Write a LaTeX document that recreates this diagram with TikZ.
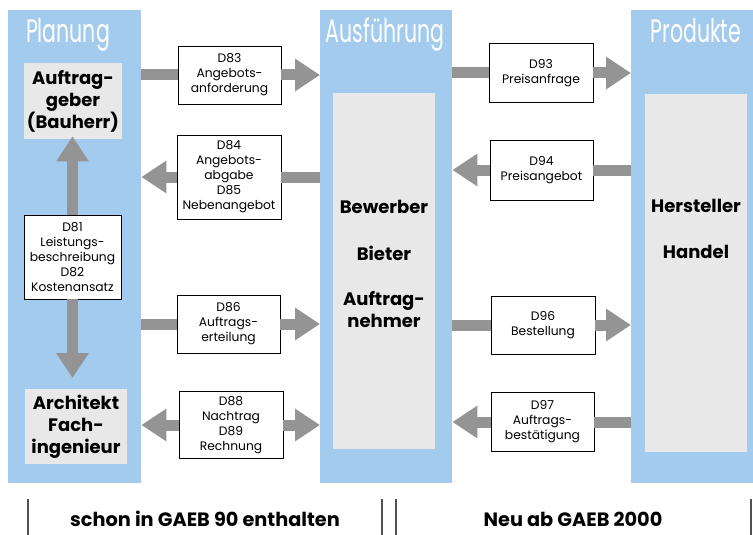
\documentclass[tikz,border=0pt]{standalone}
\usepackage{fontspec}
\setmainfont{Poppins}
\usetikzlibrary{arrows.meta}
\definecolor{colblue}{RGB}{163,203,238}
\definecolor{arrgray}{RGB}{148,148,148}
\definecolor{innergray}{RGB}{232,232,232}
\definecolor{sepgray}{RGB}{80,80,80}
\begin{document}
\begin{tikzpicture}[x=1pt,y=-1pt,
  col/.style={fill=colblue, draw=none, anchor=north west, inner sep=0pt},
  innerbox/.style={fill=innergray, draw=none, anchor=north west, inner sep=0pt},
  docbox/.style={draw=black, line width=0.8pt, fill=white, inner sep=0pt, align=center,
    font=\fontsize{12.3}{15}\selectfont},
  coltitle/.style={text=white, inner sep=0pt, font=\fontsize{32.5}{32}\selectfont},
  role/.style={inner sep=0pt, align=center, font=\bfseries\fontsize{18}{22}\selectfont},
  flow/.style={draw=arrgray, line width=11pt},
  fwd/.style={flow, -{Triangle[width=31pt,length=25pt]}},
  legend/.style={inner sep=0pt, font=\bfseries\fontsize{19.3}{20}\selectfont},
  sep/.style={draw=sepgray, line width=1.5pt},
]
\useasboundingbox (0,0) rectangle (753,535);
\fill[white] (0,0) rectangle (753,535);

% columns
\node[col, minimum width=133pt, minimum height=473pt] (plan) at (8,10) {};
\node[col, minimum width=132pt, minimum height=473pt] (ausf) at (320,10) {};
\node[col, minimum width=122pt, minimum height=473pt] (prod) at (631,10) {};

\node[coltitle, anchor=base] (tplan) at (68,43) {\scalebox{0.63}[1]{Planung}};
\node[coltitle, anchor=base] (tausf) at (385,43) {\scalebox{0.63}[1]{Ausführung}};
\node[coltitle, anchor=base] (tprod) at (696,43) {\scalebox{0.63}[1]{Produkte}};

% inner boxes
\node[innerbox, minimum width=98pt, minimum height=76pt] (ag) at (24,63) {};
\node[role] (agt) at (73,101) {Auftrag-\\geber\\(Bauherr)};
\node[innerbox, minimum width=102pt, minimum height=75pt] (arch) at (25,389) {};
\node[role] (archt) at (76,427) {Architekt\\Fach-\\ingenieur};
\node[innerbox, minimum width=102pt, minimum height=356pt] (bew) at (333,93) {};
\node[role] (bew1) at (384,207) {Bewerber};
\node[role] (bew2) at (384,253) {Bieter};
\node[role] (bew3) at (384,310) {Auftrag-\\nehmer};
\node[innerbox, minimum width=102pt, minimum height=358pt] (her) at (645,94) {};
\node[role] (her1) at (696,206) {Hersteller};
\node[role] (her2) at (696,252) {Handel};

% document boxes
\node[docbox, minimum width=103pt, minimum height=58pt] (d83) at (229.5,75) {D83\\Angebots-\\anforderung};
\node[docbox, minimum width=104pt, minimum height=84pt] (d84) at (229,177) {D84\\Angebots-\\abgabe\\D85\\Nebenangebot};
\node[docbox, minimum width=97pt, minimum height=84pt] (d81) at (72.5,257) {D81\\Leistungs-\\beschreibung\\D82\\Kostenansatz};
\node[docbox, minimum width=103pt, minimum height=58pt] (d86) at (228.5,324) {D86\\Auftrags-\\erteilung};
\node[docbox, minimum width=104pt, minimum height=67pt] (d88) at (231,425) {D88\\Nachtrag\\D89\\Rechnung};
\node[docbox, minimum width=104pt, minimum height=59pt] (d93) at (541,73) {D93\\Preisanfrage};
\node[docbox, minimum width=103pt, minimum height=60pt] (d94) at (541.5,170) {D94\\Preisangebot};
\node[docbox, minimum width=104pt, minimum height=58pt] (d96) at (543,325) {D96\\Bestellung};
\node[docbox, minimum width=103pt, minimum height=59pt] (d97) at (542.5,422) {D97\\Auftrags-\\bestätigung};

% flows
\draw[flow] (plan.east |- d83.west) -- (d83.west);
\draw[fwd] (d83.east) -- (ausf.west |- d83.east);
\draw[flow] (ausf.west |- d84.east) -- (d84.east);
\draw[fwd] (d84.west) -- (plan.east |- d84.west);
\draw[flow] (plan.east |- d86.west) -- (d86.west);
\draw[fwd] (d86.east) -- (ausf.west |- d86.east);
\draw[fwd] (d88.west) -- (plan.east |- d88.west);
\draw[fwd] (d88.east) -- (ausf.west |- d88.east);
\draw[flow] (ausf.east |- d93.west) -- (d93.west);
\draw[fwd] (d93.east) -- (prod.west |- d93.east);
\draw[flow] (prod.west |- d94.east) -- (d94.east);
\draw[fwd] (d94.west) -- (ausf.east |- d94.west);
\draw[flow] (ausf.east |- d96.west) -- (d96.west);
\draw[fwd] (d96.east) -- (prod.west |- d96.east);
\draw[flow] (prod.west |- d97.east) -- (d97.east);
\draw[fwd] (d97.west) -- (ausf.east |- d97.west);
\draw[fwd, shorten >=-3pt] (d81.north) -- (d81.north |- ag.south);
\draw[fwd, shorten >=11pt] (d81.south) -- (d81.south |- arch.north);

% legend
\draw[sep] (28,499) -- (28,535);
\draw[sep] (382,499) -- (382,535);
\draw[sep] (396,499) -- (396,535);
\draw[sep] (751,499) -- (751,535);
\node[legend] (l1) at (205,519) {schon in GAEB 90 enthalten};
\node[legend] (l2) at (573,519) {Neu ab GAEB 2000};
\end{tikzpicture}
\end{document}
